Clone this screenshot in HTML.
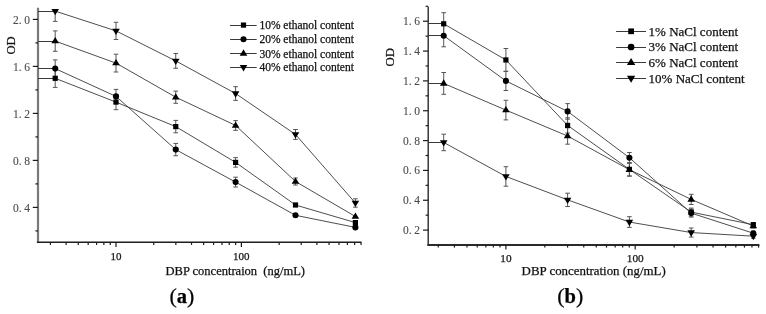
<!DOCTYPE html>
<html><head><meta charset="utf-8"><style>
html,body{margin:0;padding:0;background:#fff;}
body{width:766px;height:314px;overflow:hidden;}
svg{display:block;}
#w{width:766px;height:314px;will-change:transform;background:#fff;}
text{font-family:"Liberation Serif",serif;fill:#111;stroke:#111;stroke-width:0.25px;}
.yl{fill:#4a4a4a;stroke:#4a4a4a;stroke-width:0.1px;}
.xl{font-size:11px;fill:#222;}
.lg{font-size:11.5px;fill:#111;}
.lg2{font-size:13px;fill:#111;}
.xt{font-size:12.5px;fill:#111;}
.xt2{font-size:12.9px;fill:#111;}
.yt{font-size:12.5px;fill:#111;}
.yt2{font-size:12.8px;fill:#111;}
.b{font-weight:bold;}
.pl{font-size:22px;fill:#000;}
</style></head><body>
<div id="w"><svg width="766" height="314" viewBox="0 0 766 314">
<rect width="766" height="314" fill="#fff"/>
<line x1="38.0" y1="7.7" x2="38.0" y2="243.0" stroke="#7a7a7a" stroke-width="2.2"/><line x1="36.9" y1="242.3" x2="361.5" y2="242.3" stroke="#1e1e1e" stroke-width="1.4"/><line x1="32.8" y1="207.40" x2="38.0" y2="207.40" stroke="#1a1a1a" stroke-width="1.2"/><text x="13.12" y="211.80" class="yl" style="font-size:11.5px">0.<tspan dx="2.4">4</tspan></text><line x1="32.8" y1="160.40" x2="38.0" y2="160.40" stroke="#1a1a1a" stroke-width="1.2"/><text x="13.12" y="164.80" class="yl" style="font-size:11.5px">0.<tspan dx="2.4">8</tspan></text><line x1="32.8" y1="113.40" x2="38.0" y2="113.40" stroke="#1a1a1a" stroke-width="1.2"/><text x="13.12" y="117.80" class="yl" style="font-size:11.5px">1.<tspan dx="2.4">2</tspan></text><line x1="32.8" y1="66.40" x2="38.0" y2="66.40" stroke="#1a1a1a" stroke-width="1.2"/><text x="13.12" y="70.80" class="yl" style="font-size:11.5px">1.<tspan dx="2.4">6</tspan></text><line x1="32.8" y1="19.40" x2="38.0" y2="19.40" stroke="#1a1a1a" stroke-width="1.2"/><text x="13.12" y="23.80" class="yl" style="font-size:11.5px">2.<tspan dx="2.4">0</tspan></text><line x1="35.4" y1="230.90" x2="38.0" y2="230.90" stroke="#1a1a1a" stroke-width="1.2"/><line x1="35.4" y1="183.90" x2="38.0" y2="183.90" stroke="#1a1a1a" stroke-width="1.2"/><line x1="35.4" y1="136.90" x2="38.0" y2="136.90" stroke="#1a1a1a" stroke-width="1.2"/><line x1="35.4" y1="89.90" x2="38.0" y2="89.90" stroke="#1a1a1a" stroke-width="1.2"/><line x1="35.4" y1="42.90" x2="38.0" y2="42.90" stroke="#1a1a1a" stroke-width="1.2"/><line x1="50.43" y1="242.3" x2="50.43" y2="244.9" stroke="#1a1a1a" stroke-width="1.2"/><line x1="66.10" y1="242.3" x2="66.10" y2="244.9" stroke="#1a1a1a" stroke-width="1.2"/><line x1="78.25" y1="242.3" x2="78.25" y2="244.9" stroke="#1a1a1a" stroke-width="1.2"/><line x1="88.18" y1="242.3" x2="88.18" y2="244.9" stroke="#1a1a1a" stroke-width="1.2"/><line x1="96.58" y1="242.3" x2="96.58" y2="244.9" stroke="#1a1a1a" stroke-width="1.2"/><line x1="103.85" y1="242.3" x2="103.85" y2="244.9" stroke="#1a1a1a" stroke-width="1.2"/><line x1="110.26" y1="242.3" x2="110.26" y2="244.9" stroke="#1a1a1a" stroke-width="1.2"/><line x1="116.00" y1="242.3" x2="116.00" y2="246.9" stroke="#1a1a1a" stroke-width="1.2"/><text x="115.90" y="259.8" class="xl" style="font-size:11px" text-anchor="middle">10</text><line x1="153.75" y1="242.3" x2="153.75" y2="244.9" stroke="#1a1a1a" stroke-width="1.2"/><line x1="175.83" y1="242.3" x2="175.83" y2="244.9" stroke="#1a1a1a" stroke-width="1.2"/><line x1="191.50" y1="242.3" x2="191.50" y2="244.9" stroke="#1a1a1a" stroke-width="1.2"/><line x1="203.65" y1="242.3" x2="203.65" y2="244.9" stroke="#1a1a1a" stroke-width="1.2"/><line x1="213.58" y1="242.3" x2="213.58" y2="244.9" stroke="#1a1a1a" stroke-width="1.2"/><line x1="221.98" y1="242.3" x2="221.98" y2="244.9" stroke="#1a1a1a" stroke-width="1.2"/><line x1="229.25" y1="242.3" x2="229.25" y2="244.9" stroke="#1a1a1a" stroke-width="1.2"/><line x1="235.66" y1="242.3" x2="235.66" y2="244.9" stroke="#1a1a1a" stroke-width="1.2"/><line x1="241.40" y1="242.3" x2="241.40" y2="246.9" stroke="#1a1a1a" stroke-width="1.2"/><text x="241.30" y="259.8" class="xl" style="font-size:11px" text-anchor="middle">100</text><line x1="279.15" y1="242.3" x2="279.15" y2="244.9" stroke="#1a1a1a" stroke-width="1.2"/><line x1="301.23" y1="242.3" x2="301.23" y2="244.9" stroke="#1a1a1a" stroke-width="1.2"/><line x1="316.90" y1="242.3" x2="316.90" y2="244.9" stroke="#1a1a1a" stroke-width="1.2"/><line x1="329.05" y1="242.3" x2="329.05" y2="244.9" stroke="#1a1a1a" stroke-width="1.2"/><line x1="338.98" y1="242.3" x2="338.98" y2="244.9" stroke="#1a1a1a" stroke-width="1.2"/><line x1="347.38" y1="242.3" x2="347.38" y2="244.9" stroke="#1a1a1a" stroke-width="1.2"/><line x1="354.65" y1="242.3" x2="354.65" y2="244.9" stroke="#1a1a1a" stroke-width="1.2"/><line x1="361.06" y1="242.3" x2="361.06" y2="244.9" stroke="#1a1a1a" stroke-width="1.2"/><line x1="38.0" y1="78.5" x2="55.20" y2="78.5" stroke="#3a3a3a" stroke-width="1"/><path d="M55.20 78.30L116.00 102.10L175.75 126.60L235.60 162.40L295.50 205.00L355.40 222.60" fill="none" stroke="#3a3a3a" stroke-width="0.9"/><line x1="38.0" y1="68.5" x2="55.20" y2="68.5" stroke="#3a3a3a" stroke-width="1"/><path d="M55.20 68.60L116.00 96.40L175.75 149.60L235.60 182.10L295.50 215.30L355.40 227.40" fill="none" stroke="#3a3a3a" stroke-width="0.9"/><line x1="38.0" y1="41.5" x2="55.20" y2="41.5" stroke="#3a3a3a" stroke-width="1"/><path d="M55.20 41.10L116.00 63.10L175.75 97.20L235.60 125.45L295.50 181.50L355.40 216.50" fill="none" stroke="#3a3a3a" stroke-width="0.9"/><line x1="38.0" y1="11.5" x2="55.20" y2="11.5" stroke="#3a3a3a" stroke-width="1"/><path d="M55.20 11.10L116.00 30.90L175.75 60.90L235.60 93.55L295.50 134.45L355.40 203.00" fill="none" stroke="#3a3a3a" stroke-width="0.9"/><line x1="55.20" y1="69.20" x2="55.20" y2="87.40" stroke="#555" stroke-width="1"/><line x1="52.90" y1="69.20" x2="57.50" y2="69.20" stroke="#555" stroke-width="1"/><line x1="52.90" y1="87.40" x2="57.50" y2="87.40" stroke="#555" stroke-width="1"/><line x1="116.00" y1="94.50" x2="116.00" y2="109.70" stroke="#555" stroke-width="1"/><line x1="113.70" y1="94.50" x2="118.30" y2="94.50" stroke="#555" stroke-width="1"/><line x1="113.70" y1="109.70" x2="118.30" y2="109.70" stroke="#555" stroke-width="1"/><line x1="175.75" y1="120.40" x2="175.75" y2="132.80" stroke="#555" stroke-width="1"/><line x1="173.45" y1="120.40" x2="178.05" y2="120.40" stroke="#555" stroke-width="1"/><line x1="173.45" y1="132.80" x2="178.05" y2="132.80" stroke="#555" stroke-width="1"/><line x1="235.60" y1="157.65" x2="235.60" y2="167.15" stroke="#555" stroke-width="1"/><line x1="233.30" y1="157.65" x2="237.90" y2="157.65" stroke="#555" stroke-width="1"/><line x1="233.30" y1="167.15" x2="237.90" y2="167.15" stroke="#555" stroke-width="1"/><line x1="55.20" y1="59.90" x2="55.20" y2="77.30" stroke="#555" stroke-width="1"/><line x1="52.90" y1="59.90" x2="57.50" y2="59.90" stroke="#555" stroke-width="1"/><line x1="52.90" y1="77.30" x2="57.50" y2="77.30" stroke="#555" stroke-width="1"/><line x1="116.00" y1="89.40" x2="116.00" y2="103.40" stroke="#555" stroke-width="1"/><line x1="113.70" y1="89.40" x2="118.30" y2="89.40" stroke="#555" stroke-width="1"/><line x1="113.70" y1="103.40" x2="118.30" y2="103.40" stroke="#555" stroke-width="1"/><line x1="175.75" y1="143.45" x2="175.75" y2="155.75" stroke="#555" stroke-width="1"/><line x1="173.45" y1="143.45" x2="178.05" y2="143.45" stroke="#555" stroke-width="1"/><line x1="173.45" y1="155.75" x2="178.05" y2="155.75" stroke="#555" stroke-width="1"/><line x1="235.60" y1="177.20" x2="235.60" y2="187.00" stroke="#555" stroke-width="1"/><line x1="233.30" y1="177.20" x2="237.90" y2="177.20" stroke="#555" stroke-width="1"/><line x1="233.30" y1="187.00" x2="237.90" y2="187.00" stroke="#555" stroke-width="1"/><line x1="55.20" y1="30.90" x2="55.20" y2="51.30" stroke="#555" stroke-width="1"/><line x1="52.90" y1="30.90" x2="57.50" y2="30.90" stroke="#555" stroke-width="1"/><line x1="52.90" y1="51.30" x2="57.50" y2="51.30" stroke="#555" stroke-width="1"/><line x1="116.00" y1="54.20" x2="116.00" y2="72.00" stroke="#555" stroke-width="1"/><line x1="113.70" y1="54.20" x2="118.30" y2="54.20" stroke="#555" stroke-width="1"/><line x1="113.70" y1="72.00" x2="118.30" y2="72.00" stroke="#555" stroke-width="1"/><line x1="175.75" y1="91.10" x2="175.75" y2="103.30" stroke="#555" stroke-width="1"/><line x1="173.45" y1="91.10" x2="178.05" y2="91.10" stroke="#555" stroke-width="1"/><line x1="173.45" y1="103.30" x2="178.05" y2="103.30" stroke="#555" stroke-width="1"/><line x1="235.60" y1="120.60" x2="235.60" y2="130.30" stroke="#555" stroke-width="1"/><line x1="233.30" y1="120.60" x2="237.90" y2="120.60" stroke="#555" stroke-width="1"/><line x1="233.30" y1="130.30" x2="237.90" y2="130.30" stroke="#555" stroke-width="1"/><line x1="295.50" y1="178.00" x2="295.50" y2="185.00" stroke="#555" stroke-width="1"/><line x1="293.20" y1="178.00" x2="297.80" y2="178.00" stroke="#555" stroke-width="1"/><line x1="293.20" y1="185.00" x2="297.80" y2="185.00" stroke="#555" stroke-width="1"/><line x1="55.20" y1="9.60" x2="55.20" y2="21.40" stroke="#555" stroke-width="1"/><line x1="52.90" y1="21.40" x2="57.50" y2="21.40" stroke="#555" stroke-width="1"/><line x1="116.00" y1="22.30" x2="116.00" y2="39.50" stroke="#555" stroke-width="1"/><line x1="113.70" y1="22.30" x2="118.30" y2="22.30" stroke="#555" stroke-width="1"/><line x1="113.70" y1="39.50" x2="118.30" y2="39.50" stroke="#555" stroke-width="1"/><line x1="175.75" y1="53.50" x2="175.75" y2="68.30" stroke="#555" stroke-width="1"/><line x1="173.45" y1="53.50" x2="178.05" y2="53.50" stroke="#555" stroke-width="1"/><line x1="173.45" y1="68.30" x2="178.05" y2="68.30" stroke="#555" stroke-width="1"/><line x1="235.60" y1="86.70" x2="235.60" y2="100.40" stroke="#555" stroke-width="1"/><line x1="233.30" y1="86.70" x2="237.90" y2="86.70" stroke="#555" stroke-width="1"/><line x1="233.30" y1="100.40" x2="237.90" y2="100.40" stroke="#555" stroke-width="1"/><line x1="295.50" y1="129.50" x2="295.50" y2="139.40" stroke="#555" stroke-width="1"/><line x1="293.20" y1="129.50" x2="297.80" y2="129.50" stroke="#555" stroke-width="1"/><line x1="293.20" y1="139.40" x2="297.80" y2="139.40" stroke="#555" stroke-width="1"/><line x1="355.40" y1="198.80" x2="355.40" y2="207.20" stroke="#555" stroke-width="1"/><line x1="353.10" y1="198.80" x2="357.70" y2="198.80" stroke="#555" stroke-width="1"/><line x1="353.10" y1="207.20" x2="357.70" y2="207.20" stroke="#555" stroke-width="1"/><rect x="52.60" y="75.70" width="5.20" height="5.20" fill="#000"/><rect x="113.40" y="99.50" width="5.20" height="5.20" fill="#000"/><rect x="173.15" y="124.00" width="5.20" height="5.20" fill="#000"/><rect x="233.00" y="159.80" width="5.20" height="5.20" fill="#000"/><rect x="292.90" y="202.40" width="5.20" height="5.20" fill="#000"/><rect x="352.80" y="220.00" width="5.20" height="5.20" fill="#000"/><circle cx="55.20" cy="68.60" r="3.05" fill="#000"/><circle cx="116.00" cy="96.40" r="3.05" fill="#000"/><circle cx="175.75" cy="149.60" r="3.05" fill="#000"/><circle cx="235.60" cy="182.10" r="3.05" fill="#000"/><circle cx="295.50" cy="215.30" r="3.05" fill="#000"/><circle cx="355.40" cy="227.40" r="3.05" fill="#000"/><path d="M55.20 37.07L59.00 43.37L51.40 43.37Z" fill="#000"/><path d="M116.00 59.07L119.80 65.37L112.20 65.37Z" fill="#000"/><path d="M175.75 93.17L179.55 99.47L171.95 99.47Z" fill="#000"/><path d="M235.60 121.42L239.40 127.72L231.80 127.72Z" fill="#000"/><path d="M295.50 177.47L299.30 183.77L291.70 183.77Z" fill="#000"/><path d="M355.40 212.47L359.20 218.77L351.60 218.77Z" fill="#000"/><path d="M55.20 15.20L59.00 8.89L51.40 8.89Z" fill="#000"/><path d="M116.00 34.99L119.80 28.70L112.20 28.70Z" fill="#000"/><path d="M175.75 65.00L179.55 58.70L171.95 58.70Z" fill="#000"/><path d="M235.60 97.64L239.40 91.34L231.80 91.34Z" fill="#000"/><path d="M295.50 138.54L299.30 132.24L291.70 132.24Z" fill="#000"/><path d="M355.40 207.09L359.20 200.79L351.60 200.79Z" fill="#000"/><line x1="428.2" y1="6.7" x2="428.2" y2="245.95" stroke="#2a2a2a" stroke-width="1.4"/><line x1="427.5" y1="245.0" x2="759.4" y2="245.0" stroke="#2a2a2a" stroke-width="1.9"/><line x1="423.0" y1="230.10" x2="428.2" y2="230.10" stroke="#1a1a1a" stroke-width="1.2"/><text x="403.12" y="234.10" class="yl" style="font-size:11.5px">0.<tspan dx="2.4">2</tspan></text><line x1="423.0" y1="200.26" x2="428.2" y2="200.26" stroke="#1a1a1a" stroke-width="1.2"/><text x="403.12" y="204.26" class="yl" style="font-size:11.5px">0.<tspan dx="2.4">4</tspan></text><line x1="423.0" y1="170.42" x2="428.2" y2="170.42" stroke="#1a1a1a" stroke-width="1.2"/><text x="403.12" y="174.42" class="yl" style="font-size:11.5px">0.<tspan dx="2.4">6</tspan></text><line x1="423.0" y1="140.58" x2="428.2" y2="140.58" stroke="#1a1a1a" stroke-width="1.2"/><text x="403.12" y="144.58" class="yl" style="font-size:11.5px">0.<tspan dx="2.4">8</tspan></text><line x1="423.0" y1="110.74" x2="428.2" y2="110.74" stroke="#1a1a1a" stroke-width="1.2"/><text x="403.12" y="114.74" class="yl" style="font-size:11.5px">1.<tspan dx="2.4">0</tspan></text><line x1="423.0" y1="80.90" x2="428.2" y2="80.90" stroke="#1a1a1a" stroke-width="1.2"/><text x="403.12" y="84.90" class="yl" style="font-size:11.5px">1.<tspan dx="2.4">2</tspan></text><line x1="423.0" y1="51.06" x2="428.2" y2="51.06" stroke="#1a1a1a" stroke-width="1.2"/><text x="403.12" y="55.06" class="yl" style="font-size:11.5px">1.<tspan dx="2.4">4</tspan></text><line x1="423.0" y1="21.22" x2="428.2" y2="21.22" stroke="#1a1a1a" stroke-width="1.2"/><text x="403.12" y="25.22" class="yl" style="font-size:11.5px">1.<tspan dx="2.4">6</tspan></text><line x1="425.59999999999997" y1="215.18" x2="428.2" y2="215.18" stroke="#1a1a1a" stroke-width="1.2"/><line x1="425.59999999999997" y1="185.34" x2="428.2" y2="185.34" stroke="#1a1a1a" stroke-width="1.2"/><line x1="425.59999999999997" y1="155.50" x2="428.2" y2="155.50" stroke="#1a1a1a" stroke-width="1.2"/><line x1="425.59999999999997" y1="125.66" x2="428.2" y2="125.66" stroke="#1a1a1a" stroke-width="1.2"/><line x1="425.59999999999997" y1="95.82" x2="428.2" y2="95.82" stroke="#1a1a1a" stroke-width="1.2"/><line x1="425.59999999999997" y1="65.98" x2="428.2" y2="65.98" stroke="#1a1a1a" stroke-width="1.2"/><line x1="425.59999999999997" y1="36.14" x2="428.2" y2="36.14" stroke="#1a1a1a" stroke-width="1.2"/><line x1="425.59999999999997" y1="6.30" x2="428.2" y2="6.30" stroke="#1a1a1a" stroke-width="1.2"/><line x1="438.29" y1="245.0" x2="438.29" y2="247.6" stroke="#1a1a1a" stroke-width="1.2"/><line x1="454.45" y1="245.0" x2="454.45" y2="247.6" stroke="#1a1a1a" stroke-width="1.2"/><line x1="466.98" y1="245.0" x2="466.98" y2="247.6" stroke="#1a1a1a" stroke-width="1.2"/><line x1="477.21" y1="245.0" x2="477.21" y2="247.6" stroke="#1a1a1a" stroke-width="1.2"/><line x1="485.87" y1="245.0" x2="485.87" y2="247.6" stroke="#1a1a1a" stroke-width="1.2"/><line x1="493.37" y1="245.0" x2="493.37" y2="247.6" stroke="#1a1a1a" stroke-width="1.2"/><line x1="499.98" y1="245.0" x2="499.98" y2="247.6" stroke="#1a1a1a" stroke-width="1.2"/><line x1="505.90" y1="245.0" x2="505.90" y2="249.6" stroke="#1a1a1a" stroke-width="1.2"/><text x="506.00" y="262.2" class="xl" style="font-size:11.3px" text-anchor="middle">10</text><line x1="544.82" y1="245.0" x2="544.82" y2="247.6" stroke="#1a1a1a" stroke-width="1.2"/><line x1="567.59" y1="245.0" x2="567.59" y2="247.6" stroke="#1a1a1a" stroke-width="1.2"/><line x1="583.75" y1="245.0" x2="583.75" y2="247.6" stroke="#1a1a1a" stroke-width="1.2"/><line x1="596.28" y1="245.0" x2="596.28" y2="247.6" stroke="#1a1a1a" stroke-width="1.2"/><line x1="606.51" y1="245.0" x2="606.51" y2="247.6" stroke="#1a1a1a" stroke-width="1.2"/><line x1="615.17" y1="245.0" x2="615.17" y2="247.6" stroke="#1a1a1a" stroke-width="1.2"/><line x1="622.67" y1="245.0" x2="622.67" y2="247.6" stroke="#1a1a1a" stroke-width="1.2"/><line x1="629.28" y1="245.0" x2="629.28" y2="247.6" stroke="#1a1a1a" stroke-width="1.2"/><line x1="635.20" y1="245.0" x2="635.20" y2="249.6" stroke="#1a1a1a" stroke-width="1.2"/><text x="635.30" y="262.2" class="xl" style="font-size:11.3px" text-anchor="middle">100</text><line x1="674.12" y1="245.0" x2="674.12" y2="247.6" stroke="#1a1a1a" stroke-width="1.2"/><line x1="696.89" y1="245.0" x2="696.89" y2="247.6" stroke="#1a1a1a" stroke-width="1.2"/><line x1="713.05" y1="245.0" x2="713.05" y2="247.6" stroke="#1a1a1a" stroke-width="1.2"/><line x1="725.58" y1="245.0" x2="725.58" y2="247.6" stroke="#1a1a1a" stroke-width="1.2"/><line x1="735.81" y1="245.0" x2="735.81" y2="247.6" stroke="#1a1a1a" stroke-width="1.2"/><line x1="744.47" y1="245.0" x2="744.47" y2="247.6" stroke="#1a1a1a" stroke-width="1.2"/><line x1="751.97" y1="245.0" x2="751.97" y2="247.6" stroke="#1a1a1a" stroke-width="1.2"/><line x1="758.58" y1="245.0" x2="758.58" y2="247.6" stroke="#1a1a1a" stroke-width="1.2"/><line x1="428.2" y1="23.5" x2="443.70" y2="23.5" stroke="#3a3a3a" stroke-width="1"/><path d="M443.70 23.80L505.90 59.95L567.60 125.40L629.40 169.40L691.20 212.10L753.30 224.70" fill="none" stroke="#3a3a3a" stroke-width="0.9"/><line x1="428.2" y1="35.5" x2="443.70" y2="35.5" stroke="#3a3a3a" stroke-width="1"/><path d="M443.70 35.70L505.90 80.90L567.60 111.40L629.40 157.70L691.20 213.10L753.30 233.20" fill="none" stroke="#3a3a3a" stroke-width="0.9"/><line x1="428.2" y1="83.5" x2="443.70" y2="83.5" stroke="#3a3a3a" stroke-width="1"/><path d="M443.70 83.40L505.90 110.10L567.60 136.00L629.40 169.70L691.20 199.40L753.30 226.00" fill="none" stroke="#3a3a3a" stroke-width="0.9"/><line x1="428.2" y1="142.5" x2="443.70" y2="142.5" stroke="#3a3a3a" stroke-width="1"/><path d="M443.70 142.45L505.90 176.45L567.60 199.85L629.40 222.05L691.20 232.55L753.30 236.20" fill="none" stroke="#3a3a3a" stroke-width="0.9"/><line x1="443.70" y1="12.70" x2="443.70" y2="34.90" stroke="#555" stroke-width="1"/><line x1="441.40" y1="12.70" x2="446.00" y2="12.70" stroke="#555" stroke-width="1"/><line x1="441.40" y1="34.90" x2="446.00" y2="34.90" stroke="#555" stroke-width="1"/><line x1="505.90" y1="48.50" x2="505.90" y2="71.40" stroke="#555" stroke-width="1"/><line x1="503.60" y1="48.50" x2="508.20" y2="48.50" stroke="#555" stroke-width="1"/><line x1="503.60" y1="71.40" x2="508.20" y2="71.40" stroke="#555" stroke-width="1"/><line x1="567.60" y1="117.80" x2="567.60" y2="133.00" stroke="#555" stroke-width="1"/><line x1="565.30" y1="117.80" x2="569.90" y2="117.80" stroke="#555" stroke-width="1"/><line x1="565.30" y1="133.00" x2="569.90" y2="133.00" stroke="#555" stroke-width="1"/><line x1="629.40" y1="162.90" x2="629.40" y2="175.90" stroke="#555" stroke-width="1"/><line x1="627.10" y1="162.90" x2="631.70" y2="162.90" stroke="#555" stroke-width="1"/><line x1="627.10" y1="175.90" x2="631.70" y2="175.90" stroke="#555" stroke-width="1"/><line x1="691.20" y1="208.10" x2="691.20" y2="216.10" stroke="#555" stroke-width="1"/><line x1="688.90" y1="208.10" x2="693.50" y2="208.10" stroke="#555" stroke-width="1"/><line x1="688.90" y1="216.10" x2="693.50" y2="216.10" stroke="#555" stroke-width="1"/><line x1="753.30" y1="222.70" x2="753.30" y2="226.70" stroke="#555" stroke-width="1"/><line x1="751.00" y1="222.70" x2="755.60" y2="222.70" stroke="#555" stroke-width="1"/><line x1="751.00" y1="226.70" x2="755.60" y2="226.70" stroke="#555" stroke-width="1"/><line x1="443.70" y1="24.60" x2="443.70" y2="46.80" stroke="#555" stroke-width="1"/><line x1="441.40" y1="24.60" x2="446.00" y2="24.60" stroke="#555" stroke-width="1"/><line x1="441.40" y1="46.80" x2="446.00" y2="46.80" stroke="#555" stroke-width="1"/><line x1="505.90" y1="71.30" x2="505.90" y2="90.50" stroke="#555" stroke-width="1"/><line x1="503.60" y1="71.30" x2="508.20" y2="71.30" stroke="#555" stroke-width="1"/><line x1="503.60" y1="90.50" x2="508.20" y2="90.50" stroke="#555" stroke-width="1"/><line x1="567.60" y1="103.60" x2="567.60" y2="119.20" stroke="#555" stroke-width="1"/><line x1="565.30" y1="103.60" x2="569.90" y2="103.60" stroke="#555" stroke-width="1"/><line x1="565.30" y1="119.20" x2="569.90" y2="119.20" stroke="#555" stroke-width="1"/><line x1="629.40" y1="152.50" x2="629.40" y2="162.90" stroke="#555" stroke-width="1"/><line x1="627.10" y1="152.50" x2="631.70" y2="152.50" stroke="#555" stroke-width="1"/><line x1="627.10" y1="162.90" x2="631.70" y2="162.90" stroke="#555" stroke-width="1"/><line x1="691.20" y1="209.10" x2="691.20" y2="217.10" stroke="#555" stroke-width="1"/><line x1="688.90" y1="209.10" x2="693.50" y2="209.10" stroke="#555" stroke-width="1"/><line x1="688.90" y1="217.10" x2="693.50" y2="217.10" stroke="#555" stroke-width="1"/><line x1="753.30" y1="231.20" x2="753.30" y2="235.20" stroke="#555" stroke-width="1"/><line x1="751.00" y1="231.20" x2="755.60" y2="231.20" stroke="#555" stroke-width="1"/><line x1="751.00" y1="235.20" x2="755.60" y2="235.20" stroke="#555" stroke-width="1"/><line x1="443.70" y1="72.50" x2="443.70" y2="94.30" stroke="#555" stroke-width="1"/><line x1="441.40" y1="72.50" x2="446.00" y2="72.50" stroke="#555" stroke-width="1"/><line x1="441.40" y1="94.30" x2="446.00" y2="94.30" stroke="#555" stroke-width="1"/><line x1="505.90" y1="100.30" x2="505.90" y2="119.90" stroke="#555" stroke-width="1"/><line x1="503.60" y1="100.30" x2="508.20" y2="100.30" stroke="#555" stroke-width="1"/><line x1="503.60" y1="119.90" x2="508.20" y2="119.90" stroke="#555" stroke-width="1"/><line x1="567.60" y1="127.80" x2="567.60" y2="144.20" stroke="#555" stroke-width="1"/><line x1="565.30" y1="127.80" x2="569.90" y2="127.80" stroke="#555" stroke-width="1"/><line x1="565.30" y1="144.20" x2="569.90" y2="144.20" stroke="#555" stroke-width="1"/><line x1="629.40" y1="163.20" x2="629.40" y2="176.20" stroke="#555" stroke-width="1"/><line x1="627.10" y1="163.20" x2="631.70" y2="163.20" stroke="#555" stroke-width="1"/><line x1="627.10" y1="176.20" x2="631.70" y2="176.20" stroke="#555" stroke-width="1"/><line x1="691.20" y1="194.30" x2="691.20" y2="204.50" stroke="#555" stroke-width="1"/><line x1="688.90" y1="194.30" x2="693.50" y2="194.30" stroke="#555" stroke-width="1"/><line x1="688.90" y1="204.50" x2="693.50" y2="204.50" stroke="#555" stroke-width="1"/><line x1="753.30" y1="224.00" x2="753.30" y2="228.00" stroke="#555" stroke-width="1"/><line x1="751.00" y1="224.00" x2="755.60" y2="224.00" stroke="#555" stroke-width="1"/><line x1="751.00" y1="228.00" x2="755.60" y2="228.00" stroke="#555" stroke-width="1"/><line x1="443.70" y1="134.20" x2="443.70" y2="150.70" stroke="#555" stroke-width="1"/><line x1="441.40" y1="134.20" x2="446.00" y2="134.20" stroke="#555" stroke-width="1"/><line x1="441.40" y1="150.70" x2="446.00" y2="150.70" stroke="#555" stroke-width="1"/><line x1="505.90" y1="166.70" x2="505.90" y2="186.20" stroke="#555" stroke-width="1"/><line x1="503.60" y1="166.70" x2="508.20" y2="166.70" stroke="#555" stroke-width="1"/><line x1="503.60" y1="186.20" x2="508.20" y2="186.20" stroke="#555" stroke-width="1"/><line x1="567.60" y1="193.20" x2="567.60" y2="206.50" stroke="#555" stroke-width="1"/><line x1="565.30" y1="193.20" x2="569.90" y2="193.20" stroke="#555" stroke-width="1"/><line x1="565.30" y1="206.50" x2="569.90" y2="206.50" stroke="#555" stroke-width="1"/><line x1="629.40" y1="216.70" x2="629.40" y2="227.40" stroke="#555" stroke-width="1"/><line x1="627.10" y1="216.70" x2="631.70" y2="216.70" stroke="#555" stroke-width="1"/><line x1="627.10" y1="227.40" x2="631.70" y2="227.40" stroke="#555" stroke-width="1"/><line x1="691.20" y1="228.00" x2="691.20" y2="237.10" stroke="#555" stroke-width="1"/><line x1="688.90" y1="228.00" x2="693.50" y2="228.00" stroke="#555" stroke-width="1"/><line x1="688.90" y1="237.10" x2="693.50" y2="237.10" stroke="#555" stroke-width="1"/><line x1="753.30" y1="234.20" x2="753.30" y2="238.20" stroke="#555" stroke-width="1"/><line x1="751.00" y1="234.20" x2="755.60" y2="234.20" stroke="#555" stroke-width="1"/><line x1="751.00" y1="238.20" x2="755.60" y2="238.20" stroke="#555" stroke-width="1"/><rect x="441.10" y="21.20" width="5.20" height="5.20" fill="#000"/><rect x="503.30" y="57.35" width="5.20" height="5.20" fill="#000"/><rect x="565.00" y="122.80" width="5.20" height="5.20" fill="#000"/><rect x="626.80" y="166.80" width="5.20" height="5.20" fill="#000"/><rect x="688.60" y="209.50" width="5.20" height="5.20" fill="#000"/><rect x="750.70" y="222.10" width="5.20" height="5.20" fill="#000"/><circle cx="443.70" cy="35.70" r="3.05" fill="#000"/><circle cx="505.90" cy="80.90" r="3.05" fill="#000"/><circle cx="567.60" cy="111.40" r="3.05" fill="#000"/><circle cx="629.40" cy="157.70" r="3.05" fill="#000"/><circle cx="691.20" cy="213.10" r="3.05" fill="#000"/><circle cx="753.30" cy="233.20" r="3.05" fill="#000"/><path d="M443.70 79.37L447.50 85.67L439.90 85.67Z" fill="#000"/><path d="M505.90 106.07L509.70 112.37L502.10 112.37Z" fill="#000"/><path d="M567.60 131.97L571.40 138.27L563.80 138.27Z" fill="#000"/><path d="M629.40 165.67L633.20 171.97L625.60 171.97Z" fill="#000"/><path d="M691.20 195.37L695.00 201.67L687.40 201.67Z" fill="#000"/><path d="M753.30 221.97L757.10 228.27L749.50 228.27Z" fill="#000"/><path d="M443.70 146.54L447.50 140.24L439.90 140.24Z" fill="#000"/><path d="M505.90 180.54L509.70 174.24L502.10 174.24Z" fill="#000"/><path d="M567.60 203.94L571.40 197.64L563.80 197.64Z" fill="#000"/><path d="M629.40 226.15L633.20 219.84L625.60 219.84Z" fill="#000"/><path d="M691.20 236.65L695.00 230.34L687.40 230.34Z" fill="#000"/><path d="M753.30 240.29L757.10 233.99L749.50 233.99Z" fill="#000"/><line x1="230.1" y1="25.5" x2="256.7" y2="25.5" stroke="#3a3a3a" stroke-width="1"/><rect x="240.90" y="22.50" width="5.20" height="5.20" fill="#000"/><text x="259.4" y="29.20" class="lg">10% ethanol content</text><line x1="230.1" y1="39.5" x2="256.7" y2="39.5" stroke="#3a3a3a" stroke-width="1"/><circle cx="243.50" cy="39.20" r="3.05" fill="#000"/><text x="259.4" y="43.30" class="lg">20% ethanol content</text><line x1="230.1" y1="53.5" x2="256.7" y2="53.5" stroke="#3a3a3a" stroke-width="1"/><path d="M243.50 49.37L247.30 55.67L239.70 55.67Z" fill="#000"/><text x="259.4" y="57.50" class="lg">30% ethanol content</text><line x1="230.1" y1="67.5" x2="256.7" y2="67.5" stroke="#3a3a3a" stroke-width="1"/><path d="M243.50 71.39L247.30 65.09L239.70 65.09Z" fill="#000"/><text x="259.4" y="71.40" class="lg">40% ethanol content</text><line x1="616.1" y1="31.5" x2="646.0" y2="31.5" stroke="#3a3a3a" stroke-width="1"/><rect x="628.24" y="28.44" width="5.72" height="5.72" fill="#000"/><text x="648.6" y="35.60" class="lg2">1% NaCl content</text><line x1="616.1" y1="47.5" x2="646.0" y2="47.5" stroke="#3a3a3a" stroke-width="1"/><circle cx="631.10" cy="47.00" r="3.35" fill="#000"/><text x="648.6" y="51.30" class="lg2">3% NaCl content</text><line x1="616.1" y1="62.5" x2="646.0" y2="62.5" stroke="#3a3a3a" stroke-width="1"/><path d="M631.10 58.06L635.28 64.99L626.92 64.99Z" fill="#000"/><text x="648.6" y="66.80" class="lg2">6% NaCl content</text><line x1="616.1" y1="78.5" x2="646.0" y2="78.5" stroke="#3a3a3a" stroke-width="1"/><path d="M631.10 82.80L635.28 75.87L626.92 75.87Z" fill="#000"/><text x="648.6" y="82.60" class="lg2">10% NaCl content</text><text x="165.6" y="274.6" class="xt">DBP concentraion&#160;&#160;(ng/mL)</text><text x="521.6" y="274.7" class="xt2">DBP concentration (ng/mL)</text><text transform="translate(14.5 45.5) rotate(-90)" class="yt" text-anchor="middle">OD</text><text transform="translate(394.0 57.3) rotate(-90)" class="yt2" text-anchor="middle">OD</text><text x="169.4" y="303.1" class="pl">(<tspan font-weight="bold" style="font-size:20.5px">a</tspan>)</text><text x="557.2" y="303.2" class="pl">(<tspan font-weight="bold" style="font-size:20.5px">b</tspan>)</text>
</svg></div>
</body></html>
